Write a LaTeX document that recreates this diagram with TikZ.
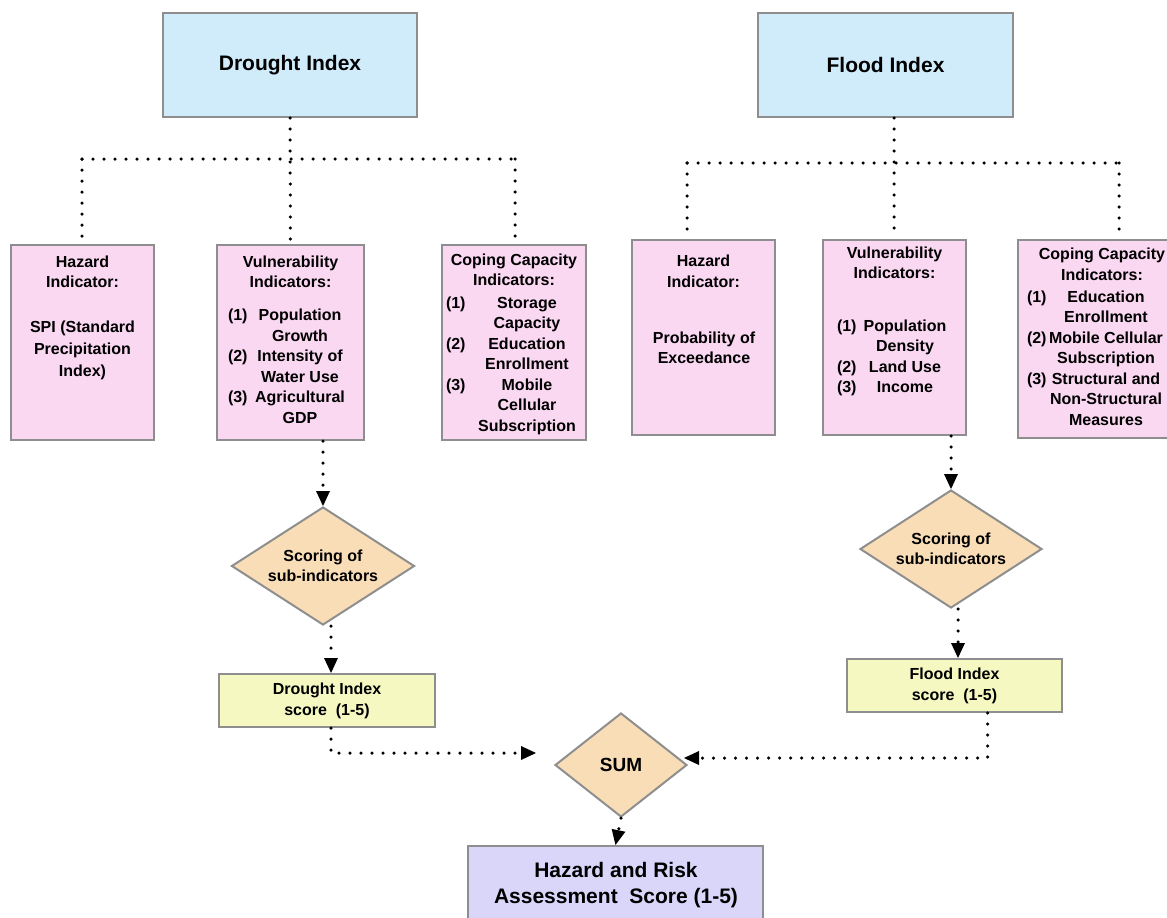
\documentclass[tikz,border=0pt]{standalone}
\usepackage{fontspec}
\setmainfont{Liberation Sans}
\usetikzlibrary{shapes.geometric,arrows.meta}

\definecolor{edgegray}{HTML}{8E8E8E}
\definecolor{skyfill}{HTML}{D0ECFB}
\definecolor{pinkfill}{HTML}{FAD8F2}
\definecolor{sandfill}{HTML}{F9DDB7}
\definecolor{limefill}{HTML}{F5F9C1}
\definecolor{lilacfill}{HTML}{D9D6FA}

% numbered list line: number in a fixed slot, item text centred in a column of width #1
\newcommand{\itm}[3]{\makebox[24pt][l]{#2}\makebox[#1][c]{#3}}

\begin{document}
\begin{tikzpicture}[x=1pt,y=-1pt,
  box/.style={draw=edgegray, line width=2pt, rectangle, inner sep=0pt},
  bigtxt/.style={font=\fontsize{21}{26}\selectfont\bfseries, align=center},
  txt/.style={font=\fontsize{16}{20.5}\selectfont\bfseries, align=center, inner sep=0pt},
  indexbox/.style={box, fill=skyfill, minimum height=104pt, bigtxt},
  indbox/.style={box, fill=pinkfill},
  decide/.style={diamond, draw=edgegray, line width=2pt, fill=sandfill, inner sep=0pt, txt},
  scorebox/.style={box, fill=limefill, minimum width=216pt, minimum height=53pt, txt, font=\fontsize{16}{21}\selectfont\bfseries},
  dots/.style={line width=3.5pt, dash pattern=on 0pt off 11pt, line cap=round},
  tip/.style={dots, -{Triangle[width=14pt,length=15pt,line width=0pt]}}
]
\useasboundingbox (0,0) rectangle (1167,918);
\clip (0,0) rectangle (1167,918);

% ---------- index boxes ----------
\node[indexbox, minimum width=254pt] (dIdx) at (290,65) {Drought Index};
\node[indexbox, minimum width=255pt] (fIdx) at (885.5,65) {Flood Index};

% ---------- drought indicator boxes ----------
\node[indbox, minimum width=143pt, minimum height=195pt] (dHaz) at (82.5,342.5) {};
\node[indbox, minimum width=147pt, minimum height=195pt] (dVul) at (290.5,342.5) {};
\node[indbox, minimum width=144pt, minimum height=195pt] (dCop) at (514,342.5) {};

\node[txt] (dHazH) at (82.5,272) {Hazard\\Indicator:};
\node[txt, font=\fontsize{16}{22}\selectfont\bfseries] (dHazB) at (82.5,350) {SPI (Standard\\Precipitation\\Index)};

\node[txt] (dVulH) at (290.5,272) {Vulnerability\\Indicators:};
\node[txt] (dVulB) at (288,366.5) {%
  \itm{96pt}{(1)}{Population}\\
  \itm{96pt}{}{Growth}\\
  \itm{96pt}{(2)}{Intensity of}\\
  \itm{96pt}{}{Water Use}\\
  \itm{96pt}{(3)}{Agricultural}\\
  \itm{96pt}{}{GDP}};

\node[txt] (dCopH) at (514,270) {Coping Capacity\\Indicators:};
\node[txt] (dCopB) at (515,365.5) {%
  \itm{114pt}{(1)}{Storage}\\
  \itm{114pt}{}{Capacity}\\
  \itm{114pt}{(2)}{Education}\\
  \itm{114pt}{}{Enrollment}\\
  \itm{114pt}{(3)}{Mobile}\\
  \itm{114pt}{}{Cellular}\\
  \itm{114pt}{}{Subscription}};

% ---------- flood indicator boxes ----------
\node[indbox, minimum width=143pt, minimum height=195pt] (fHaz) at (703.5,337.5) {};
\node[indbox, minimum width=143pt, minimum height=195pt] (fVul) at (894.5,337.5) {};
\node[indbox, minimum width=168pt, minimum height=198pt] (fCop) at (1102,339) {};

\node[txt] (fHazH) at (703.5,271.5) {Hazard\\Indicator:};
\node[txt] (fHazB) at (704,348) {Probability of\\Exceedance};

\node[txt] (fVulH) at (894.5,263) {Vulnerability\\Indicators:};
\node[txt] (fVulB) at (893,358) {%
  \itm{88pt}{(1)}{Population}\\
  \itm{88pt}{}{Density}\\
  \itm{88pt}{(2)}{Land Use}\\
  \itm{88pt}{(3)}{Income}};

\node[txt] (fCopH) at (1102,264.5) {Coping Capacity\\Indicators:};
\node[txt] (fCopB) at (1094,358) {%
  \itm{110pt}{(1)}{Education}\\
  \itm{110pt}{}{Enrollment}\\
  \itm{110pt}{(2)}{Mobile Cellular}\\
  \itm{110pt}{}{Subscription}\\
  \itm{110pt}{(3)}{Structural and}\\
  \itm{110pt}{}{Non-Structural}\\
  \itm{110pt}{}{Measures}};

% ---------- scoring, scores, sum, result ----------
\node[decide, minimum width=183pt, minimum height=118pt, aspect=1.55] (dScr) at (323,566) {Scoring of\\sub-indicators};
\node[decide, minimum width=182pt, minimum height=118pt, aspect=1.55] (fScr) at (951,549) {Scoring of\\sub-indicators};

\node[scorebox] (dSc) at (327,700.5) {Drought Index\\score~~(1-5)};
\node[scorebox, minimum width=215pt] (fSc) at (954.5,685.5) {Flood Index\\score~~(1-5)};

\node[decide, minimum width=132pt, minimum height=104pt, aspect=1.27, font=\fontsize{19}{23}\selectfont\bfseries] (sum) at (621,765) {SUM};

\node[box, fill=lilacfill, minimum width=295pt, minimum height=94pt] (hr) at (615.5,893) {};
\node[bigtxt, inner sep=0pt] (hrT) at (616,885) {Hazard and Risk\\Assessment\ \ Score (1-5)};

% ---------- drought tree ----------
\coordinate (dBusL) at (82,159);
\coordinate (dBusR) at (515,159);
\draw[dots] (dIdx.south) -- (dVul.north);
\draw[dots] (dBusL) -- (dBusR);
\draw[dots] (dBusL) -- (dBusL |- dHaz.north);
\draw[dots] (dBusR) -- (dBusR |- dCop.north);

% ---------- flood tree ----------
\coordinate (fBusL) at (687,163);
\coordinate (fBusM) at (894,163);
\coordinate (fBusR) at (1119,163);
\draw[dots] (fIdx.south -| fBusM) -- (fVul.north -| fBusM);
\draw[dots] (fBusL) -- (fBusR);
\draw[dots] (fBusL) -- (fBusL |- fHaz.north);
\draw[dots] (fBusR) -- (fBusR |- fCop.north);

% ---------- scoring flow ----------
\draw[tip] (dScr.north |- dVul.south) -- (dScr.north);
\draw[tip] ([xshift=8pt]dScr.south) -- ([xshift=8pt]dScr.south |- dSc.north);
\draw[tip] (fScr.north |- fVul.south) -- (fScr.north);
\draw[tip] ([xshift=7pt]fScr.south) -- ([xshift=7pt]fScr.south |- fSc.north);

\coordinate (sumL) at (536,753);
\coordinate (sumR) at (684,758);
\draw[tip] ([xshift=4pt]dSc.south) |- (sumL);
\draw[tip] ([xshift=33pt]fSc.south) |- (sumR);
\draw[tip] (sum.south) -- (hr.north);
\end{tikzpicture}
\end{document}
